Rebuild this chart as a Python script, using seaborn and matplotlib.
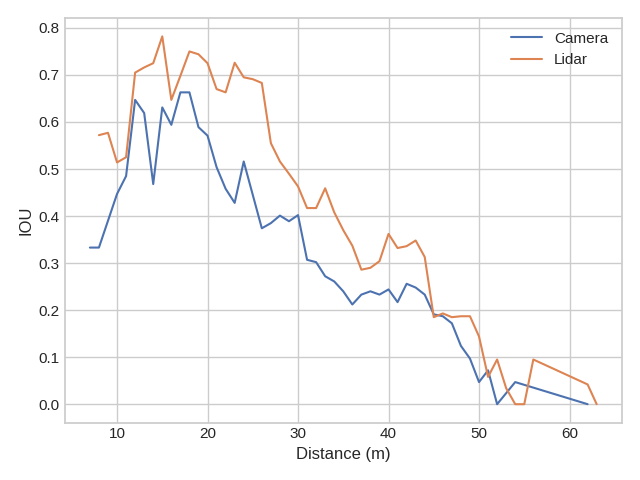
"""
Recreate the IOU vs distance line chart for camera and lidar detections.
"""

import pandas as pd
import seaborn as sns
import matplotlib.pyplot as plt


CAMERA_DIST = [7, 8, 10, 11, 12, 13, 14, 15, 16, 17, 18, 19, 20, 21, 22, 23,
               24, 25, 26, 27, 28, 29, 30, 31, 32, 33, 34, 35, 36, 37, 38, 39,
               40, 41, 42, 43, 44, 45, 46, 47, 48, 49, 50, 51, 52, 54, 62]
CAMERA_IOU = [0.333, 0.333, 0.447, 0.485, 0.647, 0.619, 0.468, 0.631, 0.594,
              0.663, 0.663, 0.589, 0.571, 0.504, 0.458, 0.428, 0.516, 0.445,
              0.374, 0.385, 0.401, 0.389, 0.402, 0.307, 0.302, 0.272, 0.261,
              0.240, 0.212, 0.233, 0.240, 0.233, 0.244, 0.217, 0.256, 0.248,
              0.233, 0.191, 0.187, 0.172, 0.124, 0.097, 0.047, 0.072, 0.0,
              0.047, 0.0]

LIDAR_DIST = [8, 9, 10, 11, 12, 13, 14, 15, 16, 17, 18, 19, 20, 21, 22, 23,
              24, 25, 26, 27, 28, 29, 30, 31, 32, 33, 34, 35, 36, 37, 38, 39,
              40, 41, 42, 43, 44, 45, 46, 47, 48, 49, 50, 51, 52, 53, 54, 55,
              56, 62, 63]
LIDAR_IOU = [0.572, 0.577, 0.514, 0.525, 0.705, 0.716, 0.725, 0.782, 0.647,
             0.698, 0.750, 0.744, 0.725, 0.670, 0.663, 0.726, 0.695, 0.691,
             0.683, 0.555, 0.516, 0.490, 0.463, 0.417, 0.417, 0.459, 0.408,
             0.370, 0.337, 0.286, 0.290, 0.304, 0.362, 0.332, 0.336, 0.348,
             0.313, 0.185, 0.193, 0.185, 0.187, 0.187, 0.144, 0.058, 0.095,
             0.034, 0.0, 0.0, 0.095, 0.042, 0.0]


def main():
    sns.set_theme(style="whitegrid")
    plt.rcParams["font.family"] = ["Liberation Sans", "DejaVu Sans"]
    # older seaborn whitegrid had zero-length ticks, so labels sit close
    plt.rcParams["xtick.major.size"] = 0
    plt.rcParams["ytick.major.size"] = 0

    camera = pd.DataFrame({"Distance (m)": CAMERA_DIST, "IOU": CAMERA_IOU})
    lidar = pd.DataFrame({"Distance (m)": LIDAR_DIST, "IOU": LIDAR_IOU})

    fig, ax = plt.subplots(figsize=(6.4, 4.8), dpi=100)
    sns.lineplot(data=camera, x="Distance (m)", y="IOU", label="Camera", ax=ax)
    sns.lineplot(data=lidar, x="Distance (m)", y="IOU", label="Lidar", ax=ax)

    ax.legend(loc="upper right", frameon=False)
    plt.tight_layout()
    plt.savefig("out.png", dpi=100)


if __name__ == "__main__":
    main()
